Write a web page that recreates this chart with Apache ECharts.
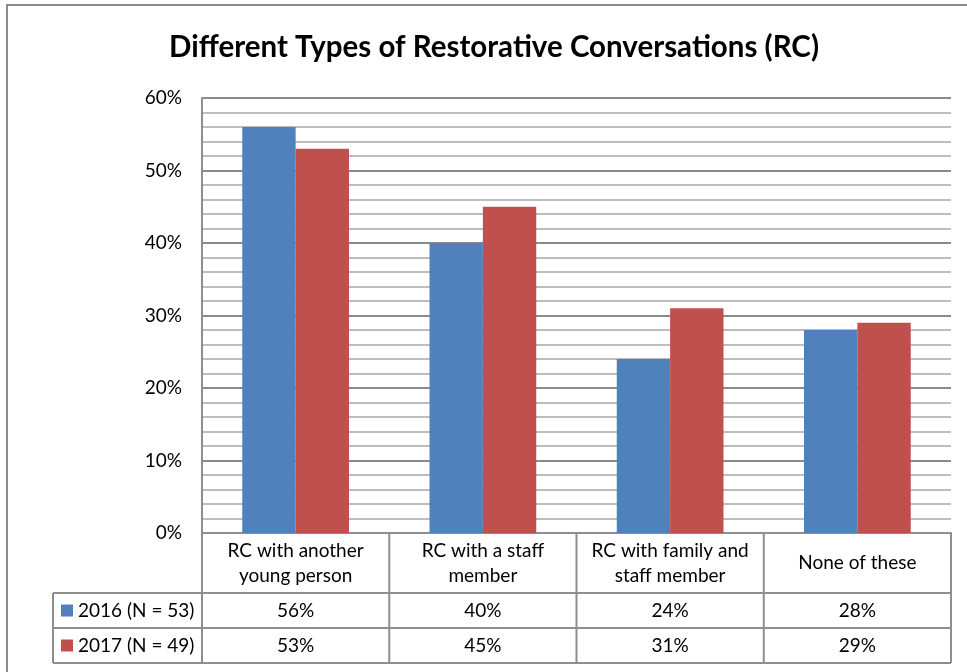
<!DOCTYPE html>
<html>
<head>
<meta charset="utf-8">
<script src="https://cdn.jsdelivr.net/npm/echarts@6/dist/echarts.min.js"></script>
<style>
  html, body { margin: 0; padding: 0; background: #fff; }
  #chart { width: 967px; height: 672px; }
</style>
</head>
<body>
<div id="chart"></div>
<script>
// categories and values (percent)
var categories = ['RC with another\nyoung person', 'RC with a staff\nmember', 'RC with family and\nstaff member', 'None of these'];
var seriesNames = ['2016 (N = 53)', '2017 (N = 49)'];
var values2016 = [56, 40, 24, 28];
var values2017 = [53, 45, 31, 29];
var colors = ['#4F81BD', '#C0504D'];

var font = 'Lato, "Open Sans", sans-serif';
var fontSize = 19;
var gridLeft = 202, gridRight = 16, gridTop = 98, gridBottom = 139;
var lineColor = '#8e8e8e';

var myChart = echarts.init(document.getElementById('chart'));
var option = {
    animation: false,
    color: colors,
    title: {
        text: 'Different Types of Restorative Conversations (RC)',
        left: 164,
        top: 27,
        textStyle: {
            fontFamily: font,
            fontSize: 29.5,
            fontWeight: 'bold',
            color: '#000'
        }
    },
    grid: {
        left: gridLeft,
        right: gridRight,
        top: gridTop,
        bottom: gridBottom
    },
    xAxis: {
        type: 'category',
        data: categories,
        axisLabel: { show: false },
        axisTick: { show: false },
        axisLine: { lineStyle: { color: lineColor, width: 2 } }
    },
    yAxis: {
        type: 'value',
        min: 0,
        max: 60,
        interval: 10,
        axisLabel: {
            formatter: '{value}%',
            fontFamily: font,
            fontSize: fontSize,
            color: '#000',
            margin: 20
        },
        axisLine: { show: true, lineStyle: { color: lineColor, width: 2 } },
        axisTick: { show: false },
        splitLine: { lineStyle: { color: '#8a8a8a', width: 2 } },
        minorTick: { show: false, splitNumber: 5 },
        minorSplitLine: { show: true, lineStyle: { color: '#bdbdbd', width: 2 } }
    },
    series: [
        {
            name: seriesNames[0],
            type: 'bar',
            data: values2016,
            barGap: 0,
            barCategoryGap: '43%'
        },
        {
            name: seriesNames[1],
            type: 'bar',
            data: values2017,
            barGap: 0,
            barCategoryGap: '43%'
        }
    ]
};
myChart.setOption(option);

// data table under the plot
var W = 967, H = 672;
var x0 = gridLeft, x1 = W - gridRight;
var band = (x1 - x0) / categories.length;
var yAxisPx = H - gridBottom;
var rowHead = 60, rowH = 35;
var legendLeft = 53;
var yHeadBottom = yAxisPx + rowHead;
var rowTops = [yHeadBottom, yHeadBottom + rowH];
var yTableBottom = yHeadBottom + rowH * 2;
var allValues = [values2016, values2017];

var elements = [];
function line(xa, ya, xb, yb) {
    elements.push({
        type: 'line',
        shape: { x1: xa, y1: ya, x2: xb, y2: yb },
        style: { stroke: lineColor, lineWidth: 2 }
    });
}
// horizontal lines
[yHeadBottom, yHeadBottom + rowH, yTableBottom].forEach(function (y) {
    line(legendLeft, y, x1, y);
});
// vertical lines
line(legendLeft, yHeadBottom, legendLeft, yTableBottom);
for (var i = 0; i <= categories.length; i++) {
    line(x0 + band * i, yAxisPx, x0 + band * i, yTableBottom);
}
// header and values
categories.forEach(function (cat, i) {
    var cx = myChart.convertToPixel({ xAxisIndex: 0 }, i);
    elements.push({
        type: 'text',
        x: cx,
        y: yAxisPx + rowHead / 2,
        style: {
            text: cat,
            fontFamily: font,
            fontSize: fontSize,
            lineHeight: 25,
            fill: '#000',
            align: 'center',
            verticalAlign: 'middle'
        }
    });
    allValues.forEach(function (vals, r) {
        elements.push({
            type: 'text',
            x: cx,
            y: rowTops[r] + rowH / 2,
            style: {
                text: vals[i] + '%',
                fontFamily: font,
                fontSize: fontSize,
                fill: '#000',
                align: 'center',
                verticalAlign: 'middle'
            }
        });
    });
});
// legend keys in the table
seriesNames.forEach(function (name, r) {
    var cy = rowTops[r] + rowH / 2;
    elements.push({
        type: 'rect',
        shape: { x: 61, y: cy - 6, width: 12, height: 12 },
        style: { fill: colors[r] }
    });
    elements.push({
        type: 'text',
        x: 78,
        y: cy,
        style: {
            text: name,
            fontFamily: font,
            fontSize: fontSize,
            fill: '#000',
            align: 'left',
            verticalAlign: 'middle'
        }
    });
});
// outer chart border
elements.push({
    type: 'rect',
    shape: { x: 7, y: 5, width: 1000, height: 1000 },
    style: { fill: 'none', stroke: '#8c8c8c', lineWidth: 2 }
});

myChart.setOption({ graphic: { elements: elements } });
</script>
</body>
</html>
